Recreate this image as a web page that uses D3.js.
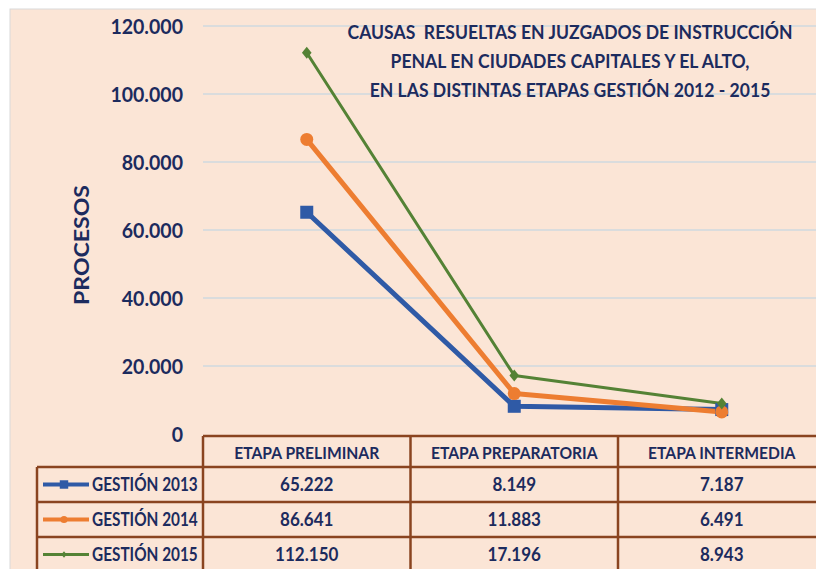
<!DOCTYPE html>
<html><head><meta charset="utf-8">
<script src="https://cdn.jsdelivr.net/npm/d3@7"></script>
<style>html,body{margin:0;padding:0;background:#fff;}svg{display:block;}</style>
</head><body>
<svg id="chart" width="816" height="569"></svg>
<script>
const categories = ["ETAPA PRELIMINAR", "ETAPA PREPARATORIA", "ETAPA INTERMEDIA"];
const seriesNames = ["GESTIÓN 2013", "GESTIÓN 2014", "GESTIÓN 2015"];
const values2013 = [65222, 8149, 7187];
const values2014 = [86641, 11883, 6491];
const values2015 = [112150, 17196, 8943];
const yTicks = [0, 20000, 40000, 60000, 80000, 100000, 120000];
const titleLines = ["CAUSAS  RESUELTAS EN JUZGADOS DE INSTRUCCIÓN", "PENAL EN CIUDADES CAPITALES Y EL ALTO,", "EN LAS DISTINTAS ETAPAS GESTIÓN 2012 - 2015"];
const yLabel = "PROCESOS";

const series = [
  {name: seriesNames[0], values: values2013, color: "#2F5AA6", width: 5, marker: "square"},
  {name: seriesNames[1], values: values2014, color: "#ED7D31", width: 5, marker: "circle"},
  {name: seriesNames[2], values: values2015, color: "#548235", width: 3, marker: "diamond"}
];

const navy = "#1C2B5E";
const border = "#8A4420";
const font = "Lato, 'Open Sans', sans-serif";

function condense(sel, factor) {
  sel.each(function () {
    const w = this.getComputedTextLength();
    d3.select(this).attr("textLength", w * factor).attr("lengthAdjust", "spacingAndGlyphs");
  });
}

const svg = d3.select("#chart");
svg.append("rect").attr("x", 10).attr("y", 9).attr("width", 810).attr("height", 570)
  .attr("fill", "#FBE5D6").attr("stroke", "#D9D9D9").attr("stroke-width", 1);

const x = d3.scaleBand().domain(categories).range([203, 825.5]).padding(0);
const y = d3.scaleLinear().domain([0, 120000]).range([434, 26]);
const loc = d3.formatLocale({decimal: ",", thousands: ".", grouping: [3], currency: ["", ""]});
const fmt = loc.format(",d");

svg.append("g").selectAll("line").data(yTicks.filter(d => d > 0)).join("line")
  .attr("x1", 203).attr("x2", 816).attr("y1", d => y(d)).attr("y2", d => y(d))
  .attr("stroke", "#CFD8DF").attr("stroke-width", 1.5);

const yAxis = d3.axisLeft(y).tickValues(yTicks).tickFormat(d => fmt(d)).tickSize(0).tickPadding(0);
const gy = svg.append("g").attr("transform", "translate(183,0)").call(yAxis);
gy.select(".domain").remove();
gy.selectAll("text").attr("font-family", font).attr("font-weight", "bold").attr("font-size", 21)
  .attr("fill", navy).attr("dy", "0.36em").call(condense, 0.93);

svg.append("text").attr("transform", "translate(89,245) rotate(-90)").attr("text-anchor", "middle")
  .attr("font-family", font).attr("font-weight", "bold").attr("font-size", 21.5).attr("fill", navy)
  .attr("textLength", 120).attr("lengthAdjust", "spacingAndGlyphs")
  .text(yLabel);

// title (horizontally condensed via transform)
svg.append("g").selectAll("text").data(titleLines).join("text")
  .attr("transform", (d, i) => `translate(570,${39 + i * 29}) scale(0.925,1)`)
  .attr("x", 0).attr("y", 0).attr("text-anchor", "middle")
  .attr("font-family", font).attr("font-weight", "bold").attr("font-size", 19).attr("fill", navy)
  .attr("xml:space", "preserve")
  .text(d => d);

const line = d3.line().x((d, i) => x(categories[i]) + x.bandwidth() / 2).y(d => y(d));
const gl = svg.append("g");
series.forEach(s => {
  gl.append("path").datum(s.values).attr("d", line).attr("fill", "none")
    .attr("stroke", s.color).attr("stroke-width", s.width).attr("stroke-linejoin", "round");
});
function drawMarker(g, type, cx, cy, color, scale) {
  if (type === "square") {
    const s = 13 * scale;
    g.append("rect").attr("x", cx - s / 2).attr("y", cy - s / 2).attr("width", s).attr("height", s).attr("fill", color);
  } else if (type === "circle") {
    g.append("circle").attr("cx", cx).attr("cy", cy).attr("r", 6.5 * scale).attr("fill", color);
  } else {
    const r = 6 * scale;
    g.append("path").attr("d", `M${cx},${cy - r}L${cx + r * 0.8},${cy}L${cx},${cy + r}L${cx - r * 0.8},${cy}Z`).attr("fill", color);
  }
}
series.forEach(s => {
  s.values.forEach((v, i) => drawMarker(gl, s.marker, x(categories[i]) + x.bandwidth() / 2, y(v), s.color, 1));
});

const headerTop = 436, headerBottom = 467, rowH = 35;
const tbl = svg.append("g");
const legendLeft = 37;
const bw = 2.5;
categories.forEach((c, i) => {
  tbl.append("text").attr("x", x(c) + x.bandwidth() / 2).attr("y", (headerTop + headerBottom) / 2 + 1).attr("dy", "0.36em")
    .attr("text-anchor", "middle").attr("font-family", font).attr("font-weight", "bold").attr("font-size", 17)
    .attr("fill", navy).text(c).call(condense, 0.92);
});
series.forEach((s, r) => {
  const top = headerBottom + r * rowH, cy = top + rowH / 2;
  tbl.append("line").attr("x1", 43).attr("x2", 89).attr("y1", cy).attr("y2", cy)
    .attr("stroke", s.color).attr("stroke-width", s.width === 5 ? 4 : 3);
  drawMarker(tbl, s.marker, 64, cy, s.color, s.marker === "square" ? 0.65 : 0.55);
  tbl.append("text").attr("x", 92).attr("y", cy).attr("dy", "0.36em")
    .attr("font-family", font).attr("font-weight", "bold").attr("font-size", 18.5).attr("fill", navy)
    .text(s.name).call(condense, 0.83);
  s.values.forEach((v, i) => {
    tbl.append("text").attr("x", x(categories[i]) + x.bandwidth() / 2).attr("y", cy).attr("dy", "0.36em")
      .attr("text-anchor", "middle").attr("font-family", font).attr("font-weight", "bold").attr("font-size", 18.5)
      .attr("fill", navy).text(fmt(v)).call(condense, 0.92);
  });
});
const hl = (x1, x2, yy) => tbl.append("line").attr("x1", x1).attr("x2", x2).attr("y1", yy).attr("y2", yy).attr("stroke", border).attr("stroke-width", bw);
const vl = (xx, y1, y2) => tbl.append("line").attr("x1", xx).attr("x2", xx).attr("y1", y1).attr("y2", y2).attr("stroke", border).attr("stroke-width", bw);
hl(203, 830, headerTop);
for (let r = 0; r <= 2; r++) hl(legendLeft, 830, headerBottom + r * rowH);
vl(legendLeft, headerBottom, 580);
vl(203, headerTop, 580);
vl(x(categories[1]), headerTop, 580);
vl(x(categories[2]), headerTop, 580);
</script>
</body></html>
